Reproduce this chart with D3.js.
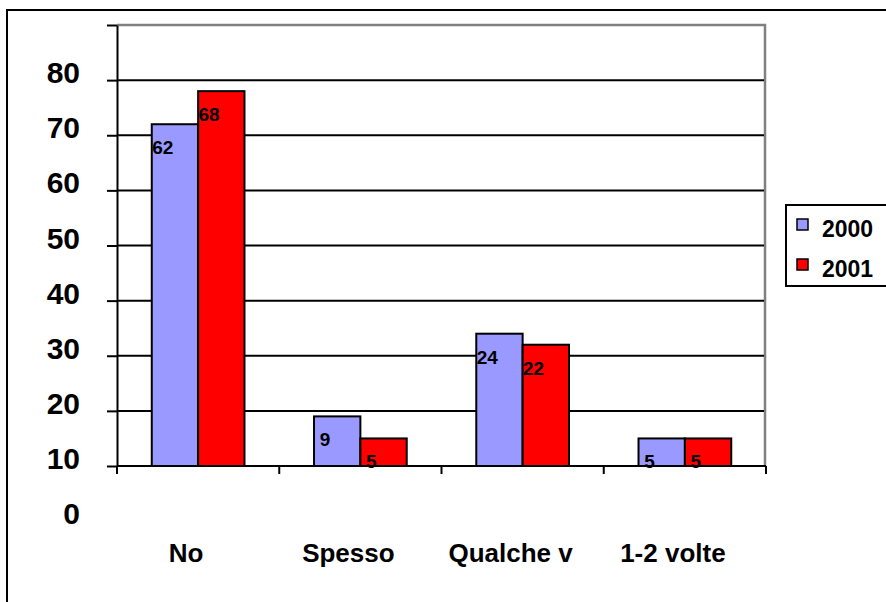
<!DOCTYPE html>
<html lang="it">
<head>
<meta charset="utf-8">
<title>2000 / 2001</title>
<script src="https://d3js.org/d3.v7.min.js"></script>
<style type="text/css">
body { margin: 0; background: #fff; }
svg  { display: block; font-family: "Liberation Sans", Arial, sans-serif; font-weight: bold; }
</style>
</head>
<body>
<script type="text/javascript">

// categories and series
var categories = ["No", "Spesso", "Qualche v", "1-2 volte"];
var seriesNames = ["2000", "2001"];
var values2000 = [62, 9, 24, 5];
var values2001 = [68, 5, 22, 5];
var colors = ["#9999FF", "#FF0000"];

// gridline values and the (shifted) labels printed beside them
var yTicks = [0, 10, 20, 30, 40, 50, 60, 70, 80];
var yTickLabels = ["0", "10", "20", "30", "40", "50", "60", "70", "80"];

var W = 886, H = 602;
var plotLeft = 117, plotRight = 766, plotTop = 25, plotBottom = 466;

var svg = d3.select("body").append("svg")
    .attr("width", W)
    .attr("height", H);

// outer frame (runs off the right and bottom edges)
svg.append("rect")
    .attr("x", 7).attr("y", 10)
    .attr("width", 900).attr("height", 620)
    .attr("fill", "none").attr("stroke", "#000").attr("stroke-width", 2);

var y = d3.scaleLinear().domain([0, 80]).range([plotBottom, plotTop]);

var x0 = d3.scaleBand().domain(categories).range([plotLeft, plotRight]).padding(0);
var x1 = d3.scaleBand().domain(seriesNames).range([0, x0.bandwidth()]).paddingOuter(0.75).paddingInner(0);

// plot border (grey, top and right)
svg.append("path")
    .attr("d", "M" + plotLeft + "," + y(80) + "H" + (plotRight - 1) + "V" + plotBottom)
    .attr("fill", "none").attr("stroke", "#808080").attr("stroke-width", 2.5);

// gridlines
svg.append("g").selectAll("line")
    .data(yTicks.filter(function(d) { return d > 0 && d < 80; }))
    .enter().append("line")
    .attr("x1", plotLeft).attr("x2", plotRight - 2)
    .attr("y1", function(d) { return y(d); })
    .attr("y2", function(d) { return y(d); })
    .attr("stroke", "#000").attr("stroke-width", 2);

// bars
var table = categories.map(function(c, i) {
    return { cat: c, vals: [
        { s: seriesNames[0], v: values2000[i], c: colors[0] },
        { s: seriesNames[1], v: values2001[i], c: colors[1] }
    ] };
});

var groups = svg.append("g").selectAll("g")
    .data(table)
    .enter().append("g")
    .attr("transform", function(d) { return "translate(" + x0(d.cat) + ",0)"; });

groups.selectAll("rect")
    .data(function(d) { return d.vals; })
    .enter().append("rect")
    .attr("x", function(d) { return x1(d.s); })
    .attr("width", x1.bandwidth())
    .attr("y", function(d) { return y(d.v); })
    .attr("height", function(d) { return plotBottom - y(d.v); })
    .attr("fill", function(d) { return d.c; })
    .attr("stroke", "#000").attr("stroke-width", 2);

// data labels
groups.selectAll("text")
    .data(function(d) { return d.vals; })
    .enter().append("text")
    .attr("x", function(d) { return x1(d.s) + 11; })
    .attr("y", function(d) { return y(d.v) + 30; })
    .attr("text-anchor", "middle")
    .attr("font-size", 19)
    .text(function(d) { return d.v; });

// y axis
svg.append("g")
    .attr("transform", "translate(" + plotLeft + ",0)")
    .call(d3.axisLeft(y).tickValues(yTicks).tickSize(10).tickFormat("").tickSizeOuter(0))
    .call(function(g) {
        g.select(".domain").attr("stroke", "#000").attr("stroke-width", 2);
        g.selectAll(".tick line").attr("stroke", "#000").attr("stroke-width", 2);
    });

// y tick labels (printed one step below their gridlines)
svg.append("g").selectAll("text")
    .data(yTickLabels)
    .enter().append("text")
    .attr("x", 80)
    .attr("y", function(d) { return y(+d - 10) + 3; })
    .attr("text-anchor", "end")
    .attr("font-size", 30)
    .text(function(d) { return d; });

// x axis
svg.append("line")
    .attr("x1", plotLeft).attr("x2", plotRight)
    .attr("y1", plotBottom).attr("y2", plotBottom)
    .attr("stroke", "#000").attr("stroke-width", 2);

var bounds = categories.map(function(c) { return x0(c); }).concat([plotRight]);
svg.append("g").selectAll("line")
    .data(bounds)
    .enter().append("line")
    .attr("x1", function(d) { return d; }).attr("x2", function(d) { return d; })
    .attr("y1", plotBottom).attr("y2", plotBottom + 8)
    .attr("stroke", "#000").attr("stroke-width", 2);

svg.append("g").selectAll("text")
    .data(categories)
    .enter().append("text")
    .attr("x", function(d) { return x0(d) + x0.bandwidth() / 2 - 12; })
    .attr("y", 562)
    .attr("text-anchor", "middle")
    .attr("font-size", 26)
    .text(function(d) { return d; });

// legend
var legend = svg.append("g");
legend.append("rect")
    .attr("x", 786).attr("y", 205)
    .attr("width", 120).attr("height", 81)
    .attr("fill", "#fff").attr("stroke", "#000").attr("stroke-width", 2);

var items = legend.selectAll("g.item")
    .data(seriesNames)
    .enter().append("g")
    .attr("class", "item")
    .attr("transform", function(d, i) { return "translate(0," + (i * 40) + ")"; });

items.append("rect")
    .attr("x", 797).attr("y", 219)
    .attr("width", 11).attr("height", 11)
    .attr("fill", function(d, i) { return colors[i]; })
    .attr("stroke", "#000").attr("stroke-width", 1.5);

items.append("text")
    .attr("x", 822).attr("y", 237)
    .attr("font-size", 23)
    .text(function(d) { return d; });

</script>
</body>
</html>
